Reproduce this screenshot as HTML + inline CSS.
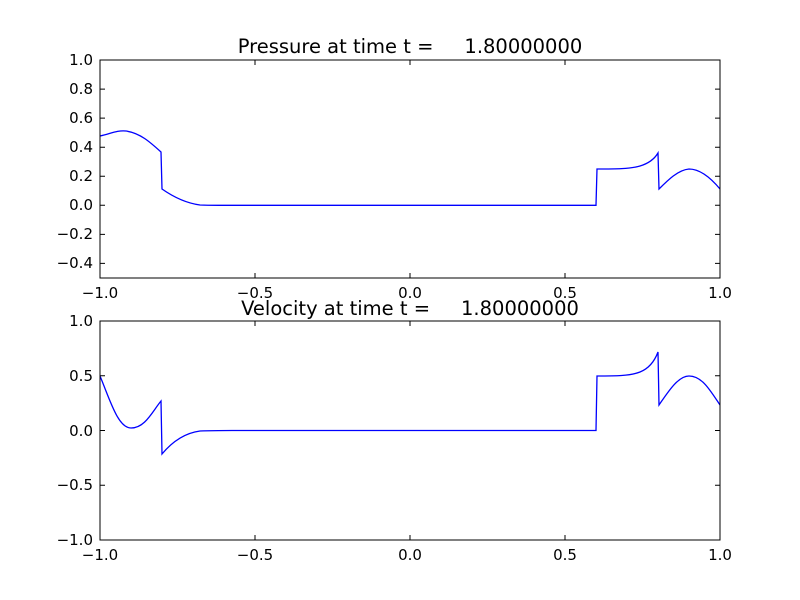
<!DOCTYPE html>
<html><head><meta charset="utf-8"><style>body{margin:0;background:#fff}svg{display:block}text{font-family:"DejaVu Sans","Liberation Sans",sans-serif;fill:#000}</style></head>
<body>
<svg width="800" height="600" viewBox="0 0 800 600" xmlns="http://www.w3.org/2000/svg">
<rect width="800" height="600" fill="#fff"/>
<!-- Top axes -->
<text x="410" y="53" font-size="19.5" text-anchor="middle" xml:space="preserve">Pressure at time t =     1.80000000</text>
<path d="M100,136 C110,134 117,130 126,131 C140,133 150,142 161,152 L162,189 C172,196 185,203 200,205 C210,205.5 220,205.3 230,205.3 L596,205.3 L597,169 C615,169 630,169 640,166 C650,163 655,158 658,153 L659,189 C668,180 678,170 689,169 C700,169 710,177 720,189" fill="none" stroke="#0000ff" stroke-width="1.3"/>
<rect x="100" y="60" width="620" height="218" fill="none" stroke="#000" stroke-width="1"/>
<g stroke="#000" stroke-width="1">
<path d="M100,278v-5M255,278v-5M410,278v-5M565,278v-5M720,278v-5M100,60v5M255,60v5M410,60v5M565,60v5M720,60v5"/>
<path d="M100,60h5M100,89.1h5M100,118.1h5M100,147.2h5M100,176.2h5M100,205.3h5M100,234.4h5M100,263.4h5M720,60h-5M720,89.1h-5M720,118.1h-5M720,147.2h-5M720,176.2h-5M720,205.3h-5M720,234.4h-5M720,263.4h-5"/>
</g>
<g font-size="15" text-anchor="end">
<text x="93" y="65">1.0</text><text x="93" y="94">0.8</text><text x="93" y="123">0.6</text><text x="93" y="152">0.4</text><text x="93" y="181">0.2</text><text x="93" y="210">0.0</text><text x="93" y="239">−0.2</text><text x="93" y="268">−0.4</text>
</g>
<g font-size="15" text-anchor="middle">
<text x="100" y="298">−1.0</text><text x="255" y="298">−0.5</text><text x="410" y="298">0.0</text><text x="565" y="298">0.5</text><text x="720" y="298">1.0</text>
</g>
<!-- Bottom axes -->
<text x="410" y="315" font-size="19.5" text-anchor="middle" xml:space="preserve">Velocity at time t =     1.80000000</text>
<path d="M100,376 C110,400 118,428 131,428 C145,428 152,412 161,401 L162,454 C172,442 185,433 200,431 C212,430.5 222,430.5 232,430.5 L596,430.5 L597,376 C615,376 630,376 640,372 C650,368 655,360 658,352 L659,405 C668,392 678,376 689,376 C702,376 710,390 720,405" fill="none" stroke="#0000ff" stroke-width="1.3"/>
<rect x="100" y="321" width="620" height="219" fill="none" stroke="#000" stroke-width="1"/>
<g stroke="#000" stroke-width="1">
<path d="M100,540v-5M255,540v-5M410,540v-5M565,540v-5M720,540v-5M100,321v5M255,321v5M410,321v5M565,321v5M720,321v5"/>
<path d="M100,321h5M100,375.75h5M100,430.5h5M100,485.25h5M100,540h5M720,321h-5M720,375.75h-5M720,430.5h-5M720,485.25h-5M720,540h-5"/>
</g>
<g font-size="15" text-anchor="end">
<text x="93" y="326">1.0</text><text x="93" y="381">0.5</text><text x="93" y="436">0.0</text><text x="93" y="490">−0.5</text><text x="93" y="545">−1.0</text>
</g>
<g font-size="15" text-anchor="middle">
<text x="100" y="560">−1.0</text><text x="255" y="560">−0.5</text><text x="410" y="560">0.0</text><text x="565" y="560">0.5</text><text x="720" y="560">1.0</text>
</g>
</svg>
</body></html>
